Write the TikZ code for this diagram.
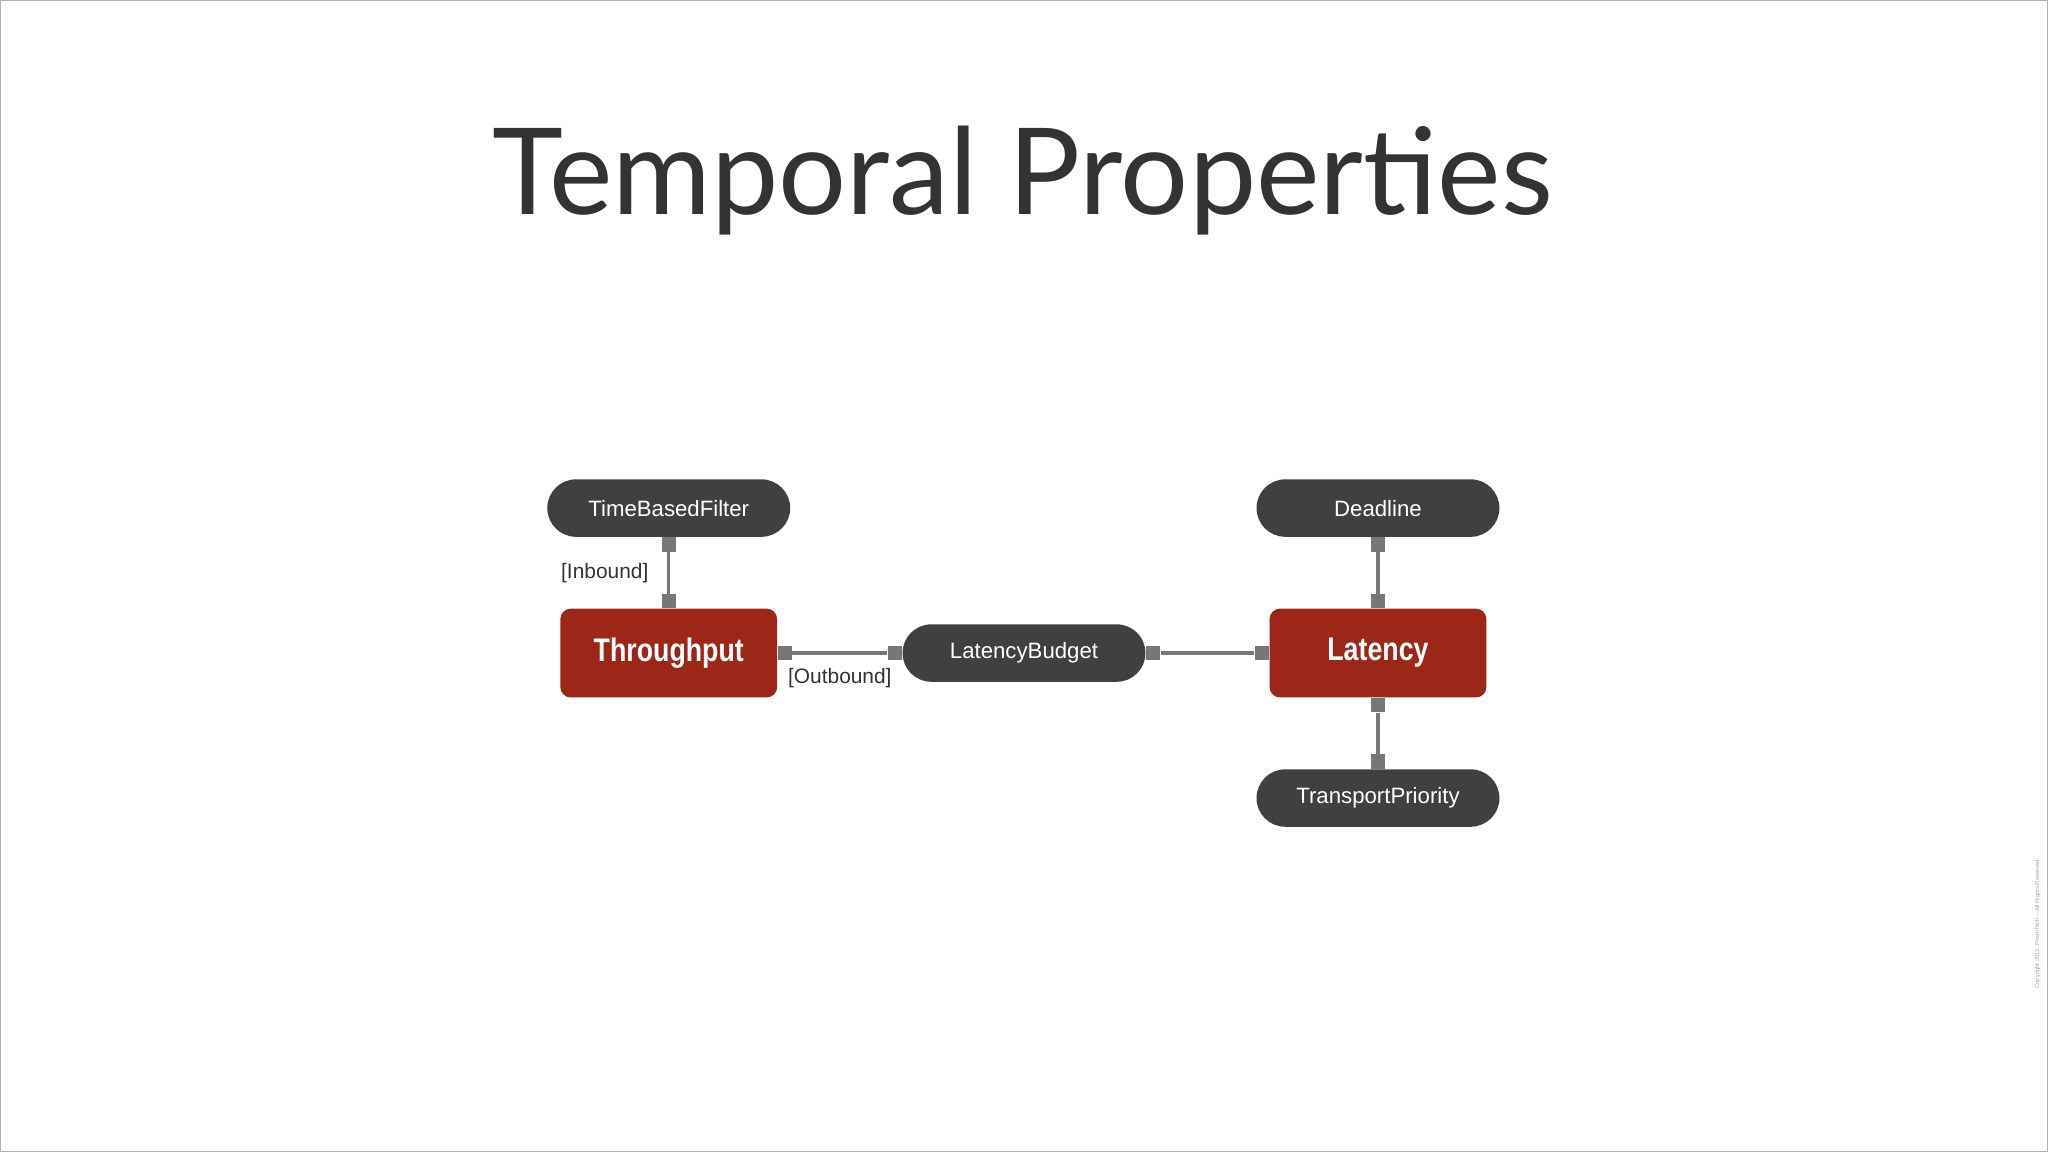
\documentclass[tikz,border=0pt]{standalone}
\usepackage{fontspec}
\setmainfont{Liberation Sans}
\newfontfamily\titlefont{Lato}
\newfontfamily\condfont[FakeStretch=0.82]{Liberation Sans Bold}
\begin{document}
\begin{tikzpicture}[x=1pt,y=-1pt,
  pill/.style={rounded rectangle, fill=pillgray, text=white, minimum width=186pt, minimum height=44pt, inner sep=0pt, font=\fontsize{17}{20}\selectfont},
  redbox/.style={rectangle, rounded corners=8pt, fill=boxred, text=white, minimum width=166pt, minimum height=68pt, inner sep=0pt, font=\condfont\fontsize{25}{28}\selectfont},
  sq/.style={rectangle, fill=linegray, minimum size=11pt, inner sep=0pt},
  conn/.style={draw=linegray, line width=2.5pt},
  lbl/.style={text=textgray, font=\fontsize{16}{19}\selectfont, inner sep=0pt}]
\definecolor{pillgray}{HTML}{404041}
\definecolor{boxred}{HTML}{9C2718}
\definecolor{linegray}{HTML}{777777}
\definecolor{textgray}{HTML}{333333}
\usetikzlibrary{shapes.misc}
\fill[white] (0,0) rectangle (1568,882);
\draw[gray!60, line width=1pt] (0.5,0.5) rectangle (1567.5,881.5);
\useasboundingbox (0,0) rectangle (1568,882);
\node[text=textgray, font=\titlefont\fontsize{92}{100}\selectfont] (title) at (783,138) {Temporal Properties};

\node[pill] (tbf) at (512,389) {TimeBasedFilter};
\node[redbox] (thr) at (512,500) {Throughput};
\node[pill] (lb) at (784,500) {LatencyBudget};
\node[redbox] (lat) at (1055,500) {Latency};
\node[pill] (dl) at (1055,389) {Deadline};
\node[pill] (tp) at (1055,611) {TransportPriority};

\node[sq, anchor=north] (s1) at (tbf.south) {};
\node[sq, anchor=south] (s2) at (thr.north) {};
\draw[conn] (s1) -- (s2);
\node[sq, anchor=west] (s3) at (thr.east) {};
\node[sq, anchor=east] (s4) at (lb.west) {};
\draw[conn] (s3) -- (s4);
\node[sq, anchor=west] (s5) at (lb.east) {};
\node[sq, anchor=east] (s6) at (lat.west) {};
\draw[conn] (s5) -- (s6);
\node[sq, anchor=north] (s7) at (dl.south) {};
\node[sq, anchor=south] (s8) at (lat.north) {};
\draw[conn] (s7) -- (s8);
\node[sq, anchor=north] (s9) at (lat.south) {};
\node[sq, anchor=south] (s10) at (tp.north) {};
\draw[conn] (s9) -- (s10);

\node[lbl] (inb) at (463,439) {[Inbound]};
\node[lbl] (outb) at (643,519) {[Outbound]};
\node[rotate=90, text=gray!70, font=\fontsize{4.5}{5}\selectfont] (copy) at (1560,707) {Copyright 2013, PrismTech -- All Rights Reserved.};
\end{tikzpicture}
\end{document}
